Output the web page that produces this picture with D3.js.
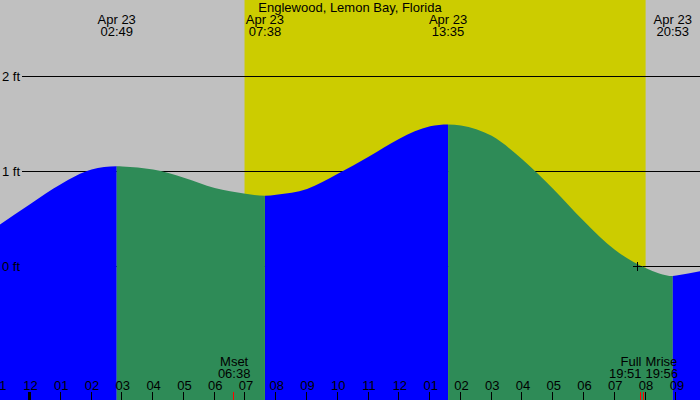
<!DOCTYPE html>
<html><head><meta charset="utf-8">
<script src="https://cdn.jsdelivr.net/npm/d3@7/dist/d3.min.js"></script>
<style>html,body{margin:0;padding:0;background:#c0c0c0;}svg{display:block;}</style>
</head><body>
<svg id="chart" width="700" height="400"></svg>
<script>
// ---- data ----
const title = "Englewood, Lemon Bay, Florida";
// hours from local midnight (negative = previous day)
const sampleTimes   = [-1, 0, 1, 2, 2.817, 3, 4, 5, 6, 7, 7.633, 8, 9, 10, 11, 12, 13, 13.583, 14, 15, 16, 17, 18, 19, 20, 20.883, 21, 22];
const sampleHeights = [0.43, 0.65, 0.86, 1.015, 1.05, 1.048, 1.015, 0.93, 0.82, 0.76, 0.74, 0.75, 0.81, 0.97, 1.15, 1.34, 1.47, 1.49, 1.48, 1.37, 1.12, 0.81, 0.47, 0.17, -0.02, -0.105, -0.10, -0.04];
const extremeTimes  = [2.817, 7.633, 13.583, 20.883];
const extremeDates  = ["Apr 23", "Apr 23", "Apr 23", "Apr 23"];
const extremeLabels = ["02:49", "07:38", "13:35", "20:53"];
const sunrise = 6.97, sunset = 20.0;
const moonNames  = ["Mset", "Full", "Mrise"];
const moonTimes  = [6.633, 19.85, 19.933];
const moonLabels = ["06:38", "19:51", "19:56"];
const moonAnchor = ["middle", "end", "start"];
const tickHours  = [-1,0,1,2,3,4,5,6,7,8,9,10,11,12,13,14,15,16,17,18,19,20,21];
const tickLabels = ["11","12","01","02","03","04","05","06","07","08","09","10","11","12","01","02","03","04","05","06","07","08","09"];
const levelValues = [2, 1, 0];
const levelLabels = ["2 ft", "1 ft", "0 ft"];

// ---- drawing ----
const W = 700, H = 400;
const FS = 13;
const svg = d3.select("#chart");
const font = "'Liberation Sans', Arial, Helvetica, sans-serif";
const x = d3.scaleLinear().domain([0, 24]).range([30, 30 + 24 * 30.78]);
const y = d3.scaleLinear().domain([0, 2]).range([266, 76]);

svg.append("rect").attr("width", W).attr("height", H).attr("fill", "#c0c0c0");
svg.append("rect").attr("x", x(sunrise)).attr("y", 0)
  .attr("width", x(sunset) - x(sunrise)).attr("height", H).attr("fill", "#cccc00");

// level lines (under the water)
svg.selectAll("line.level").data(levelValues).enter().append("line")
  .attr("x1", 22).attr("x2", W)
  .attr("y1", d => Math.round(y(d)) + 0.5).attr("y2", d => Math.round(y(d)) + 0.5)
  .attr("stroke", "#000").attr("stroke-width", 1);

const pts = sampleTimes.map((t, i) => [t, sampleHeights[i]]);
const area = d3.area().x(d => x(d[0])).y0(H).y1(d => y(d[1])).curve(d3.curveMonotoneX);

const bounds = [sampleTimes[0]].concat(extremeTimes, [sampleTimes[sampleTimes.length - 1]]);
const defs = svg.append("defs");
for (let i = 0; i < bounds.length - 1; i++) {
  const x1 = i === 0 ? -10 : x(bounds[i]);
  const x2 = i === bounds.length - 2 ? W + 20 : x(bounds[i + 1]);
  defs.append("clipPath").attr("id", "seg" + i).append("rect")
    .attr("x", x1).attr("y", 0).attr("width", x2 - x1).attr("height", H);
  svg.append("path").datum(pts).attr("d", area)
    .attr("fill", i % 2 === 0 ? "#0000ff" : "#2e8b57")
    .attr("clip-path", "url(#seg" + i + ")");
}

// zero crossing marker
const crossX = 637;
svg.append("line").attr("x1", crossX - 4).attr("x2", crossX + 5)
  .attr("y1", Math.round(y(0)) + 0.5).attr("y2", Math.round(y(0)) + 0.5).attr("stroke", "#000");
svg.append("line").attr("x1", crossX + 0.5).attr("x2", crossX + 0.5)
  .attr("y1", y(0) - 4).attr("y2", y(0) + 5).attr("stroke", "#000");

// level labels
svg.selectAll("text.lvl").data(levelValues).enter().append("text")
  .attr("x", 2).attr("y", d => y(d) + 4.5).text((d, i) => levelLabels[i])
  .attr("font-family", font).attr("font-size", FS).attr("fill", "#000");

// title
svg.append("text").attr("x", 350).attr("y", 12).attr("text-anchor", "middle")
  .attr("font-family", font).attr("font-size", FS).text(title);

// extremes labels
extremeTimes.forEach((t, i) => {
  const g = svg.append("g").attr("font-family", font).attr("font-size", FS).attr("text-anchor", "middle");
  g.append("text").attr("x", x(t)).attr("y", 24).text(extremeDates[i]);
  g.append("text").attr("x", x(t)).attr("y", 36).text(extremeLabels[i]);
});

// hour axis
const axis = d3.axisBottom(x).tickValues(tickHours).tickSize(0).tickFormat((d, i) => tickLabels[i]);
const ag = svg.append("g").attr("transform", "translate(0,390)").call(axis);
ag.select(".domain").remove();
ag.selectAll("text").attr("font-family", font).attr("font-size", FS).attr("fill", "#000").attr("dy", 0).attr("y", 0);
svg.selectAll("line.tick").data(tickHours).enter().append("line")
  .attr("x1", d => Math.round(x(d)) - 0.5).attr("x2", d => Math.round(x(d)) - 0.5)
  .attr("y1", 392).attr("y2", H)
  .attr("stroke", "#000").attr("stroke-width", d => d === 0 ? 3 : 1);

// moon events
moonTimes.forEach((t, i) => {
  svg.append("line").attr("x1", Math.round(x(t)) - 0.5).attr("x2", Math.round(x(t)) - 0.5)
    .attr("y1", 392).attr("y2", H).attr("stroke", "#ff0000");
  const lx = moonAnchor[i] === "end" ? x(t) + 0.5 : (moonAnchor[i] === "start" ? x(t) + 2 : x(t));
  const g = svg.append("g").attr("font-family", font).attr("font-size", FS).attr("text-anchor", moonAnchor[i]);
  g.append("text").attr("x", lx).attr("y", 366).text(moonNames[i]);
  g.append("text").attr("x", lx).attr("y", 378).text(moonLabels[i]);
});
</script>
</body></html>
